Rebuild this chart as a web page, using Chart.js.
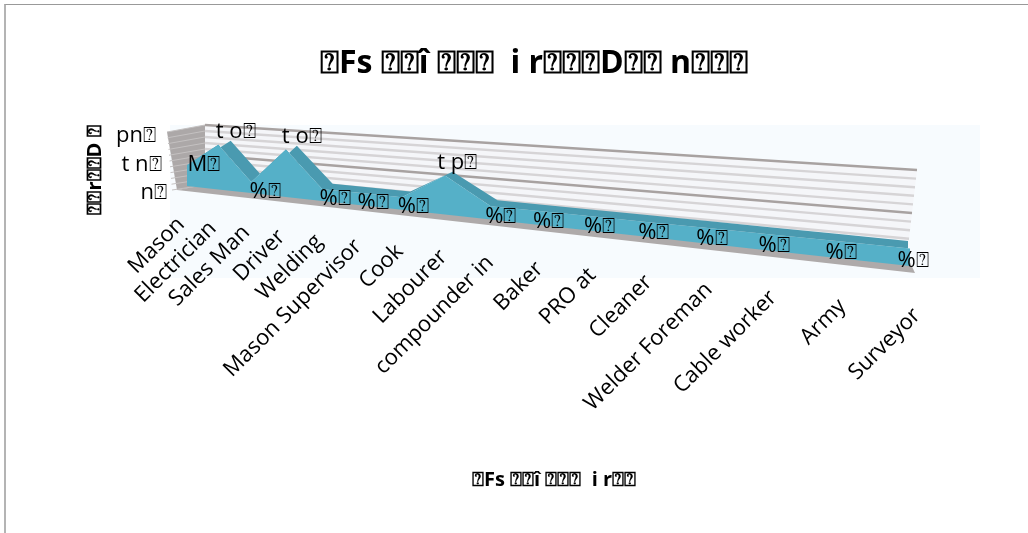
<!DOCTYPE html>
<html>
<head>
<meta charset="utf-8">
<script src="https://cdn.jsdelivr.net/npm/chart.js@4"></script>
<style>
    html, body { margin: 0; padding: 0; background: #fff; overflow: hidden; }
    #frame { position: absolute; left: 4px; top: 4px; width: 1100px; height: 600px; border-top: 1px solid #999; border-left: 2px solid #b4b4b4; box-sizing: border-box; }
    #wrap { position: absolute; left: 0; top: 0; width: 1028px; height: 533px; }
</style>
</head>
<body>
<div id="frame"></div>
<div id="wrap"><canvas id="chart" width="1028" height="533"></canvas></div>
<script>
    const NG = '\u2370';
    const categories = ['Mason', 'Electrician', 'Sales Man', 'Driver', 'Welding', 'Mason Supervisor', 'Cook', 'Labourer',
        'compounder in', 'Baker', 'PRO at', 'Cleaner', 'Welder Foreman', 'Cable worker', 'Army', 'Surveyor'];
    const counts = [7, 14.5, 3.5, 14.5, 3.5, 3.5, 3.5, 10.5, 3.5, 3.5, 3.5, 3.5, 3.5, 3.5, 3.5, 3.5];
    const countLabels = ['M' + NG, 't o' + NG, '%' + NG, 't o' + NG, '%' + NG, '%' + NG, '%' + NG, 't p' + NG,
        '%' + NG, '%' + NG, '%' + NG, '%' + NG, '%' + NG, '%' + NG, '%' + NG, '%' + NG];
    const zeros = categories.map(() => 0);
    const axisTicks = [0, 10, 20];
    const axisTickLabels = ['n' + NG, 't n' + NG, 'pn' + NG];
    const titleText = NG + 'Fs ' + NG + NG + 'î ' + NG + NG + NG + '  i r' + NG + NG + NG + 'D' + NG + NG + ' n' + NG + NG + NG;
    const xTitleText = NG + 'Fs ' + NG + NG + 'î ' + NG + NG + NG + '  i r' + NG + NG;
    const yTitleText = NG + NG + 'r' + NG + NG + 'D ' + NG;

    const FONT = '"Open Sans", "Noto Sans", "DejaVu Sans", sans-serif';
    const BEND = 0.366;

    // share of the floor length reached at u (0..1), squeezed for the 3D view
    function along(u) {
        return (1 - BEND) * u / (1 - BEND * u);
    }

    // front face of the area: u along the floor, v in axis units
    function front(u, v) {
        const f = along(u);
        return { x: 187 + 723 * f, y: 186 + 80 * f - v * (3 + 2 * f) };
    }

    // back edge of the area, same height scale as the wall
    function back(u, v) {
        const f = along(u);
        return { x: 200 + 708 * f, y: 181 + 75 * f - v * (2.95 + 1.35 * f) };
    }

    // wall at the rear of the box
    function wall(t, v) {
        return { x: 205 + 712 * t - 0.5 * (20 - v) * t, y: 185 + 71 * t - v * (3 + 1.3 * t) };
    }

    const project = { front, back };

    const view3d = {
        id: 'view3d',
        // moves the points the library placed into the slanted box
        afterDatasetsUpdate(chart) {
            const area = chart.chartArea;
            const yScale = chart.scales.y;
            chart.data.datasets.forEach((ds, i) => {
                chart.getDatasetMeta(i).data.forEach(pt => {
                    const u = (pt.x - area.left) / area.width;
                    const p = project[ds.face](u, yScale.getValueForPixel(pt.y));
                    pt.x = p.x;
                    pt.y = p.y;
                });
            });
        },
        beforeDatasetsDraw(chart) {
            const { ctx, scales: { y: yScale } } = chart;
            ctx.fillStyle = '#f7fbfe';
            ctx.fillRect(170, 125, 810, 153);

            // the box and the area are a little soft
            ctx.filter = 'blur(0.6px)';

            // rear wall
            const topL = wall(0, 20), topR = wall(1, 20), botR = wall(1, 0), botL = wall(0, 0);
            ctx.fillStyle = '#f5f6f9';
            polygon(ctx, [topL, topR, botR, botL]);

            // side wall
            ctx.fillStyle = '#aca8a8';
            polygon(ctx, [{ x: 167, y: 132 }, topL, botL, { x: 177, y: 190 }]);

            // gridlines come from the value axis ticks
            yScale.ticks.forEach(tick => {
                const major = tick.value % 10 === 0;
                const a = wall(0, tick.value), b = wall(1, tick.value);
                ctx.strokeStyle = major ? '#a8a2a1' : '#d6d4d6';
                ctx.lineWidth = 2.4;
                ctx.beginPath();
                ctx.moveTo(a.x, a.y);
                ctx.lineTo(b.x, b.y);
                ctx.stroke();
                ctx.strokeStyle = '#c4c1c1';
                ctx.lineWidth = 1;
                ctx.beginPath();
                ctx.moveTo(a.x, a.y);
                ctx.lineTo(172 - tick.value * 0.25, 190 - tick.value * 2.9);
                ctx.stroke();
            });

            // floor
            ctx.fillStyle = '#aeaaaa';
            polygon(ctx, [botL, botR, { x: 915, y: 273 }, { x: 177, y: 190 }]);
        },
        afterDatasetsDraw(chart) {
            chart.ctx.filter = 'none';
        },
        afterDraw(chart) {
            const { ctx, chartArea: area, scales: { x: xScale, y: yScale } } = chart;
            ctx.save();
            ctx.fillStyle = '#000';
            ctx.font = '22px ' + FONT;

            // value labels beside each point
            ctx.textAlign = 'center';
            ctx.textBaseline = 'middle';
            counts.forEach((v, i) => {
                const u = (xScale.getPixelForValue(i) - area.left) / area.width;
                const f = along(u);
                const p = front(u, v);
                if (v >= 10) {
                    ctx.fillText(countLabels[i], p.x + 18 - 16 * f, p.y - 13);
                } else if (v >= 5) {
                    ctx.fillText(countLabels[i], p.x + 17, p.y);
                } else {
                    ctx.fillText(countLabels[i], p.x + 15 - 12 * f, p.y + 9 + 3 * f);
                }
            });

            // value axis labels follow the front edge of the side wall
            ctx.textAlign = 'right';
            axisTicks.forEach((v, i) => {
                const t = yScale.getValueForPixel(yScale.getPixelForValue(v));
                ctx.fillText(axisTickLabels[i], 167 - t * 0.55, 193 - t * 2.85);
            });

            // category labels
            categories.forEach((name, i) => {
                const u = (xScale.getPixelForValue(i) - area.left) / area.width;
                const f = along(u);
                const p = front(u, 0);
                ctx.save();
                ctx.translate(p.x - 6 + 13 * f, p.y + 35 + 11 * f);
                ctx.rotate(-Math.PI / 4);
                ctx.fillText(name, 0, 0);
                ctx.restore();
            });

            // titles
            ctx.textAlign = 'center';
            ctx.font = 'bold 32px ' + FONT;
            ctx.fillText(titleText, 534, 64);
            ctx.font = 'bold 20px ' + FONT;
            ctx.fillText(xTitleText, 554, 480);
            ctx.save();
            ctx.translate(95, 170);
            ctx.rotate(-Math.PI / 2);
            ctx.fillText(yTitleText, 0, 0);
            ctx.restore();
            ctx.restore();
        }
    };

    function polygon(ctx, pts) {
        ctx.beginPath();
        pts.forEach((p, i) => i ? ctx.lineTo(p.x, p.y) : ctx.moveTo(p.x, p.y));
        ctx.closePath();
        ctx.fill();
    }

    new Chart(document.getElementById('chart'), {
        type: 'line',
        data: {
            labels: categories,
            datasets: [
                { face: 'front', data: counts, fill: 2, backgroundColor: '#55b0c8', borderWidth: 0, pointRadius: 0, clip: false },
                { face: 'back', data: counts, fill: 0, backgroundColor: '#4a9ab0', borderWidth: 0, pointRadius: 0, clip: false },
                { face: 'front', data: zeros, fill: false, borderWidth: 0, pointRadius: 0, clip: false }
            ]
        },
        options: {
            responsive: false,
            animation: false,
            layout: { padding: 0 },
            plugins: { legend: { display: false }, tooltip: { enabled: false }, filler: { propagate: false } },
            scales: {
                x: { display: false, offset: false },
                y: { display: false, min: 0, max: 20, ticks: { stepSize: 2 } }
            }
        },
        plugins: [view3d]
    });
</script>
</body>
</html>
